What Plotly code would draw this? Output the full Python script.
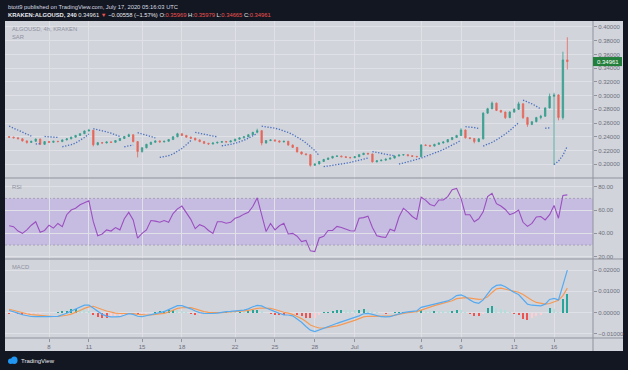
import plotly.graph_objects as go
import pandas as pd

# ---------------- data (8h candles, Jun 5 2020 -> Jul 17 2020) ----------------
dates = pd.date_range("2020-06-05 00:00", periods=127, freq="8h")

opens = [
0.2400,0.2395,0.2385,0.2372,0.2340,0.2318,0.2335,0.2368,0.2290,0.2330,0.2320,0.2335,
0.2330,0.2355,0.2370,0.2395,0.2420,0.2445,0.2485,0.2495,0.2285,0.2315,0.2310,0.2325,
0.2320,0.2345,0.2375,0.2405,0.2430,0.2330,0.2185,0.2240,0.2290,0.2320,0.2340,0.2325,
0.2335,0.2360,0.2400,0.2445,0.2420,0.2395,0.2380,0.2355,0.2330,0.2305,0.2295,0.2310,
0.2320,0.2330,0.2325,0.2340,0.2365,0.2385,0.2400,0.2430,0.2465,0.2490,0.2310,0.2345,
0.2355,0.2340,0.2325,0.2335,0.2280,0.2245,0.2180,0.2150,0.2140,0.1985,0.2005,0.2040,
0.2070,0.2090,0.2115,0.2120,0.2110,0.2100,0.2095,0.2110,0.2140,0.2160,0.2150,0.2035,
0.2050,0.2060,0.2075,0.2090,0.2120,0.2135,0.2140,0.2125,0.2115,0.2110,0.2280,0.2275,
0.2265,0.2290,0.2310,0.2325,0.2360,0.2390,0.2420,0.2500,0.2385,0.2375,0.2330,0.2370,
0.2745,0.2810,0.2890,0.2785,0.2760,0.2680,0.2760,0.2800,0.2880,0.2680,0.2580,0.2620,
0.2680,0.2700,0.2820,0.2990,0.3010,0.2680,0.3520]
highs = [
0.2410,0.2402,0.2392,0.2378,0.2348,0.2342,0.2375,0.2372,0.2338,0.2340,0.2342,0.2340,
0.2362,0.2378,0.2402,0.2428,0.2452,0.2492,0.2515,0.2500,0.2325,0.2322,0.2332,0.2330,
0.2352,0.2382,0.2412,0.2445,0.2435,0.2338,0.2248,0.2298,0.2328,0.2348,0.2345,0.2342,
0.2368,0.2408,0.2458,0.2450,0.2428,0.2402,0.2385,0.2362,0.2338,0.2312,0.2318,0.2328,
0.2338,0.2336,0.2348,0.2372,0.2392,0.2408,0.2438,0.2472,0.2518,0.2495,0.2352,0.2362,
0.2360,0.2348,0.2342,0.2340,0.2288,0.2252,0.2185,0.2162,0.2148,0.2012,0.2048,0.2078,
0.2098,0.2122,0.2128,0.2126,0.2116,0.2108,0.2118,0.2148,0.2168,0.2165,0.2155,0.2058,
0.2068,0.2082,0.2098,0.2128,0.2142,0.2148,0.2145,0.2130,0.2122,0.2295,0.2290,0.2282,
0.2298,0.2318,0.2332,0.2368,0.2398,0.2428,0.2525,0.2505,0.2392,0.2380,0.2378,0.2758,
0.2822,0.2915,0.2898,0.2792,0.2768,0.2772,0.2815,0.2910,0.2888,0.2690,0.2628,0.2690,
0.2720,0.2830,0.3030,0.3040,0.3020,0.3640,0.3850]
lows = [
0.2385,0.2378,0.2365,0.2330,0.2300,0.2310,0.2328,0.2280,0.2285,0.2312,0.2315,0.2322,
0.2325,0.2348,0.2365,0.2390,0.2412,0.2440,0.2478,0.2260,0.2275,0.2300,0.2305,0.2312,
0.2315,0.2340,0.2370,0.2398,0.2320,0.2100,0.2170,0.2232,0.2282,0.2315,0.2318,0.2320,
0.2330,0.2355,0.2395,0.2412,0.2388,0.2372,0.2345,0.2322,0.2295,0.2285,0.2290,0.2302,
0.2315,0.2318,0.2320,0.2335,0.2358,0.2378,0.2395,0.2425,0.2460,0.2275,0.2300,0.2338,
0.2332,0.2318,0.2320,0.2272,0.2238,0.2172,0.2140,0.2132,0.1965,0.1978,0.1998,0.2035,
0.2062,0.2085,0.2108,0.2102,0.2092,0.2088,0.2090,0.2105,0.2135,0.2142,0.2025,0.2028,
0.2045,0.2055,0.2070,0.2085,0.2115,0.2128,0.2118,0.2108,0.2102,0.2105,0.2265,0.2255,
0.2260,0.2282,0.2302,0.2320,0.2352,0.2382,0.2412,0.2375,0.2365,0.2305,0.2322,0.2362,
0.2735,0.2800,0.2775,0.2750,0.2660,0.2672,0.2752,0.2792,0.2660,0.2545,0.2570,0.2612,
0.2655,0.2692,0.2812,0.1990,0.2640,0.2650,0.3380]
closes = [
0.2395,0.2385,0.2372,0.2340,0.2318,0.2335,0.2368,0.2290,0.2330,0.2320,0.2335,0.2330,
0.2355,0.2370,0.2395,0.2420,0.2445,0.2485,0.2495,0.2285,0.2315,0.2310,0.2325,0.2320,
0.2345,0.2375,0.2405,0.2430,0.2330,0.2185,0.2240,0.2290,0.2320,0.2340,0.2325,0.2335,
0.2360,0.2400,0.2445,0.2420,0.2395,0.2380,0.2355,0.2330,0.2305,0.2295,0.2310,0.2320,
0.2330,0.2325,0.2340,0.2365,0.2385,0.2400,0.2430,0.2465,0.2490,0.2310,0.2345,0.2355,
0.2340,0.2325,0.2335,0.2280,0.2245,0.2180,0.2150,0.2140,0.1985,0.2005,0.2040,0.2070,
0.2090,0.2115,0.2120,0.2110,0.2100,0.2095,0.2110,0.2140,0.2160,0.2150,0.2035,0.2050,
0.2060,0.2075,0.2090,0.2120,0.2135,0.2140,0.2125,0.2115,0.2110,0.2280,0.2275,0.2265,
0.2290,0.2310,0.2325,0.2360,0.2390,0.2420,0.2500,0.2385,0.2375,0.2330,0.2370,0.2745,
0.2810,0.2890,0.2785,0.2760,0.2680,0.2760,0.2800,0.2880,0.2680,0.2580,0.2620,0.2680,
0.2700,0.2820,0.2990,0.3010,0.2680,0.3520,0.3496]

sar = [
0.2555,0.2525,0.2495,0.2465,0.2435,0.2410,
0.2295,0.2300,
0.2405,0.2400,0.2395,0.2390,
0.2255,0.2265,0.2285,0.2310,0.2345,0.2390,0.2440,
0.2518,0.2505,0.2490,0.2472,0.2452,0.2430,0.2405,
0.2255,0.2265,0.2280,
0.2460,0.2440,0.2420,0.2402,0.2385,
0.2100,0.2110,0.2125,0.2150,0.2185,0.2230,0.2285,0.2345,
0.2465,0.2452,0.2438,0.2424,0.2410,0.2398,
0.2270,0.2278,0.2290,0.2305,0.2325,0.2350,0.2380,0.2415,0.2450,
0.2555,0.2548,0.2538,0.2525,0.2508,0.2488,0.2463,0.2433,0.2398,0.2358,0.2312,0.2260,0.2200,0.2125,
0.1965,0.1973,0.1982,0.1992,0.2003,0.2015,0.2028,0.2042,0.2057,0.2073,0.2090,
0.2185,0.2172,0.2160,0.2148,0.2135,0.2122,
0.2003,0.2018,0.2035,0.2052,0.2070,0.2090,0.2112,0.2135,0.2160,0.2187,0.2215,0.2245,0.2278,0.2312,0.2350,
0.2547,0.2543,0.2535,0.2522,
0.2265,0.2290,0.2320,0.2355,0.2395,0.2440,0.2490,0.2545,0.2605,
0.2935,0.2910,0.2880,0.2845,0.2805,
0.2525,0.2530,
0.1995,0.2045,0.2130,0.2265]
sar_segment_starts = [0, 6, 8, 12, 19, 26, 29, 34, 42, 48, 57, 71, 82, 88, 103, 107, 116, 121, 123]

rsi = [
46.5,45.7,42,40,43,47,50,41,42.5,47,44.5,48.5,
45.7,56,60,61.5,64.5,66.5,68,50,38,39.5,43,42,
45,43,52.5,58,51.5,36,40,42.9,51,50.5,49.5,51,
49.5,57,61,63.4,57.5,52,44,47.5,46,42.5,40,50,
50,48.7,49.5,52.9,54.2,56.5,58,63,70.5,56,41.5,48.5,
43,46.5,48.6,39.5,40,37.5,33,34,25,24.3,36,37.5,
42.5,42.5,46,45,43.5,42.3,42,53,53.5,54.8,45,38,
37,36.5,43.5,42,54,61.5,58.5,54.5,52,71,68.5,64.8,
63.5,68.6,68.6,71.5,77.4,78.6,70,56,56,50,52.5,58.5,
71.5,74.3,65.5,63.5,60.5,56,57.5,60,49.5,46,48.6,54,
54.5,51.5,56,64,53,72.5,73]

macd = [
0.0010,0.0005,-0.0002,-0.0010,-0.0015,-0.0018,-0.0019,-0.0020,-0.0019,-0.0019,-0.0018,-0.0017,
-0.0010,-0.0003,0.0008,0.0018,0.0028,0.0035,0.0036,0.0020,0.0005,-0.0008,-0.0016,-0.0020,
-0.0020,-0.0019,-0.0012,-0.0005,-0.0008,-0.0017,-0.0019,-0.0015,-0.0010,-0.0005,0.0000,0.0005,
0.0015,0.0026,0.0033,0.0033,0.0027,0.0018,0.0008,0.0000,-0.0003,-0.0005,-0.0004,-0.0002,
0.0002,0.0005,0.0006,0.0008,0.0010,0.0012,0.0018,0.0028,0.0034,0.0032,0.0022,0.0012,
0.0005,-0.0003,-0.0010,-0.0011,-0.0015,-0.0030,-0.0045,-0.0065,-0.0082,-0.0089,-0.0082,-0.0072,
-0.0065,-0.0058,-0.0050,-0.0043,-0.0037,-0.0031,-0.0025,-0.0015,-0.0005,-0.0003,-0.0008,-0.0015,
-0.0019,-0.0020,-0.0019,-0.0012,-0.0005,0.0000,0.0004,0.0005,0.0008,0.0025,0.0030,0.0035,
0.0042,0.0048,0.0052,0.0055,0.0065,0.0080,0.0083,0.0075,0.0060,0.0048,0.0044,0.0060,
0.0088,0.0115,0.0128,0.0130,0.0122,0.0108,0.0095,0.0085,0.0062,0.0040,0.0035,0.0033,
0.0032,0.0040,0.0062,0.0067,0.0060,0.0129,0.0200]
signal = [
0.0016,0.0010,0.0004,0.0000,-0.0005,-0.0009,-0.0011,-0.0014,-0.0016,-0.0018,-0.0018,-0.0018,
-0.0016,-0.0012,-0.0007,0.0000,0.0010,0.0020,0.0027,0.0030,0.0024,0.0015,0.0008,0.0002,
-0.0002,-0.0004,-0.0003,-0.0002,-0.0004,-0.0008,-0.0011,-0.0011,-0.0010,-0.0008,-0.0006,-0.0003,
0.0003,0.0012,0.0020,0.0023,0.0025,0.0024,0.0018,0.0010,0.0005,0.0001,0.0000,0.0000,
0.0000,0.0002,0.0003,0.0005,0.0006,0.0008,0.0011,0.0016,0.0020,0.0022,0.0022,0.0020,
0.0015,0.0008,0.0002,-0.0002,-0.0008,-0.0018,-0.0028,-0.0042,-0.0058,-0.0066,-0.0072,-0.0073,
-0.0070,-0.0066,-0.0062,-0.0056,-0.0050,-0.0043,-0.0036,-0.0028,-0.0020,-0.0017,-0.0016,-0.0016,
-0.0016,-0.0016,-0.0016,-0.0013,-0.0008,-0.0004,0.0000,0.0002,0.0005,0.0012,0.0020,0.0027,
0.0033,0.0039,0.0044,0.0048,0.0056,0.0066,0.0070,0.0071,0.0068,0.0065,0.0062,0.0064,
0.0075,0.0095,0.0112,0.0115,0.0110,0.0106,0.0102,0.0096,0.0085,0.0070,0.0058,0.0048,
0.0043,0.0040,0.0043,0.0050,0.0058,0.0080,0.0115]
hist = [
-0.0006,-0.0005,-0.0006,-0.0010,-0.0010,-0.0009,-0.0008,-0.0006,-0.0003,-0.0001,0.0000,0.0001,
0.0006,0.0009,0.0015,0.0018,0.0018,0.0015,0.0009,-0.0010,-0.0019,-0.0023,-0.0024,-0.0022,
-0.0018,-0.0015,-0.0009,-0.0003,-0.0004,-0.0009,-0.0008,-0.0004,0.0000,0.0003,0.0006,0.0008,
0.0012,0.0014,0.0013,0.0010,0.0002,-0.0006,-0.0010,-0.0010,-0.0008,-0.0006,-0.0004,-0.0002,
0.0002,0.0003,0.0003,0.0003,0.0004,0.0004,0.0007,0.0012,0.0014,0.0010,0.0000,-0.0008,
-0.0010,-0.0011,-0.0012,-0.0009,-0.0007,-0.0012,-0.0017,-0.0023,-0.0027,-0.0023,-0.0010,0.0001,
0.0005,0.0008,0.0012,0.0013,0.0013,0.0012,0.0011,0.0013,0.0015,0.0014,0.0008,0.0001,
-0.0003,-0.0004,-0.0003,0.0001,0.0003,0.0004,0.0004,0.0003,0.0003,0.0013,0.0010,0.0008,
0.0009,0.0009,0.0008,0.0007,0.0009,0.0014,0.0013,0.0004,-0.0008,-0.0017,-0.0018,-0.0004,
0.0020,0.0030,0.0022,0.0015,0.0012,0.0002,-0.0007,-0.0011,-0.0030,-0.0034,-0.0023,-0.0015,
-0.0011,0.0000,0.0022,0.0017,0.0002,0.0065,0.0088]

price_ticks = [0.20, 0.22, 0.24, 0.26, 0.28, 0.30, 0.32, 0.34, 0.36, 0.38, 0.40]
rsi_ticks = [20, 40, 60, 80]
macd_ticks = [-0.01, 0.0, 0.01, 0.02]
date_ticks = ["2020-06-08", "2020-06-11", "2020-06-15", "2020-06-18", "2020-06-22", "2020-06-25",
              "2020-06-28", "2020-07-01", "2020-07-06", "2020-07-09", "2020-07-13", "2020-07-16"]
date_labels = ["8", "11", "15", "18", "22", "25", "28", "Jul", "6", "9", "13", "16"]
last_price = 0.34961

# ---------------- styling ----------------
W, H = 628, 370
def px(x): return x / W
def py(y): return 1 - y / H

FONT = "Liberation Sans, Arial, sans-serif"
PANEL = "#d2d4dc"
GRID = "#dfe1e7"
SEP = "#90939d"
TXT = "#6c707b"
UP, DOWN = "#3a9e8e", "#e4685c"

fig = go.Figure()

fig.add_trace(go.Candlestick(
    x=dates, open=opens, high=highs, low=lows, close=closes,
    increasing=dict(line=dict(color=UP, width=0.8), fillcolor=UP),
    decreasing=dict(line=dict(color=DOWN, width=0.8), fillcolor=DOWN),
    whiskerwidth=0, xaxis="x", yaxis="y", hoverinfo="skip"))

for i, s in enumerate(sar_segment_starts):
    e = sar_segment_starts[i + 1] if i + 1 < len(sar_segment_starts) else len(sar)
    fig.add_trace(go.Scatter(x=dates[s:e], y=sar[s:e], mode="lines",
                             line=dict(color="#4a70bd", width=1.3, dash="1.3px,1.6px"),
                             xaxis="x", yaxis="y", hoverinfo="skip"))

fig.add_trace(go.Scatter(x=dates, y=rsi, mode="lines", line=dict(color="#9b4fc0", width=1.1),
                         xaxis="x2", yaxis="y2", hoverinfo="skip"))

hist_colors = []
prev = 0.0
for h in hist:
    if h >= 0:
        hist_colors.append("#26a69a" if h > prev else "#b2dfdb")
    else:
        hist_colors.append("#ef5350" if h < prev else "#ffcdd2")
    prev = h
fig.add_trace(go.Bar(x=dates, y=hist, marker=dict(color=hist_colors, line=dict(width=0)),
                     width=8 * 3600 * 1000 * 0.45, xaxis="x3", yaxis="y3", hoverinfo="skip"))
fig.add_trace(go.Scatter(x=dates, y=signal, mode="lines", line=dict(color="#f59a55", width=1.2),
                         xaxis="x3", yaxis="y3", hoverinfo="skip"))
fig.add_trace(go.Scatter(x=dates, y=macd, mode="lines", line=dict(color="#55aaf0", width=1.2),
                         xaxis="x3", yaxis="y3", hoverinfo="skip"))

xr = ["2020-06-04 16:32", "2020-07-18 22:20"]
xdom = [px(5), px(593)]
common_x = dict(type="date", range=xr, domain=xdom, tickvals=date_ticks, ticktext=date_labels,
                showgrid=True, gridcolor=GRID, gridwidth=1, zeroline=False, showline=False,
                fixedrange=True)
common_y = dict(side="right", showgrid=True, gridcolor=GRID, gridwidth=1, zeroline=False,
                showline=False, ticks="outside", ticklen=3, tickcolor=SEP,
                tickfont=dict(size=6, color=TXT, family=FONT), fixedrange=True)

fig.update_layout(
    width=W, height=H, margin=dict(l=0, r=0, t=0, b=0),
    paper_bgcolor="#131722", plot_bgcolor="rgba(0,0,0,0)",
    showlegend=False, hovermode=False, bargap=0, boxgap=0.55,
    font=dict(family=FONT),
    xaxis=dict(**common_x, anchor="y", showticklabels=False, ticks="",
               rangeslider=dict(visible=False)),
    xaxis2=dict(**common_x, anchor="y2", showticklabels=False, ticks="", matches="x"),
    xaxis3=dict(**common_x, anchor="y3", showticklabels=True, ticks="outside", ticklen=3,
                tickcolor=SEP, tickfont=dict(size=6, color=TXT, family=FONT), matches="x"),
    yaxis=dict(**common_y, anchor="x", domain=[py(178), py(21)], range=[0.18, 0.4087],
               tickvals=price_ticks, ticktext=[f"{v:.5f}" for v in price_ticks]),
    yaxis2=dict(**common_y, anchor="x2", domain=[py(259), py(178)], range=[18, 87.5],
                tickvals=rsi_ticks, ticktext=[f"{v:.2f}" for v in rsi_ticks]),
    yaxis3=dict(**common_y, anchor="x3", domain=[py(338), py(259)], range=[-0.0119, 0.0252],
                tickvals=macd_ticks,
                ticktext=[(f"{v:.5f}" if v >= 0 else "\u2212" + f"{-v:.5f}") for v in macd_ticks]),
)

shapes = [
    dict(type="rect", xref="paper", yref="paper", x0=px(5), x1=px(623), y0=py(351), y1=py(21),
         fillcolor=PANEL, line=dict(width=0), layer="below"),
    dict(type="rect", xref="paper", yref="y2", x0=px(5), x1=px(593), y0=30, y1=70,
         fillcolor="rgba(168,118,238,0.26)", line=dict(width=0), layer="below"),
    dict(type="line", xref="paper", yref="y2", x0=px(5), x1=px(593), y0=70, y1=70,
         line=dict(color="#a6a0b8", width=1, dash="2px,2px"), layer="below"),
    dict(type="line", xref="paper", yref="y2", x0=px(5), x1=px(593), y0=30, y1=30,
         line=dict(color="#a6a0b8", width=1, dash="2px,2px"), layer="below"),
]
for yy in (178, 259, 338):
    shapes.append(dict(type="line", xref="paper", yref="paper", x0=px(5), x1=px(623),
                       y0=py(yy), y1=py(yy), line=dict(color=SEP, width=1), layer="above"))
shapes.append(dict(type="line", xref="paper", yref="paper", x0=px(593), x1=px(593),
                   y0=py(351), y1=py(21), line=dict(color=SEP, width=1), layer="above"))
# last price label box
shapes.append(dict(type="rect", xref="paper", yref="y", x0=px(593), x1=px(622),
                   y0=last_price - 0.0066, y1=last_price + 0.0066,
                   fillcolor="#217e3b", line=dict(width=0), layer="above"))
# TradingView logo (small cloud)
shapes.append(dict(type="circle", xref="paper", yref="paper", x0=px(8), x1=px(13.5),
                   y0=py(364), y1=py(358.5), fillcolor="#2196f3", line=dict(width=0)))
shapes.append(dict(type="circle", xref="paper", yref="paper", x0=px(11), x1=px(17.5),
                   y0=py(364), y1=py(356.5), fillcolor="#2196f3", line=dict(width=0)))
fig.update_layout(shapes=shapes)

ann = [
    dict(x=px(6), y=py(6.5), text="btott9 published on TradingView.com, July 17, 2020 05:16:03 UTC",
         font=dict(size=5.8, color="#d8dae0")),
    dict(x=px(6), y=py(15), text=("<b>KRAKEN:ALGOUSD, 240</b> 0.34961 "
                                  "<span style='color:#ef5350'>\u25bc</span> \u22120.00558 (\u22121.57%) "
                                  "O:<span style='color:#ef5350'>0.35969</span> "
                                  "H:<span style='color:#ef5350'>0.35979</span> "
                                  "L:<span style='color:#ef5350'>0.34665</span> "
                                  "C:<span style='color:#ef5350'>0.34961</span>"),
         font=dict(size=5.8, color="#e8e9ee")),
    dict(x=px(10), y=py(29), text="ALGOUSD, 4h, KRAKEN", font=dict(size=5.8, color="#8e929d")),
    dict(x=px(10), y=py(37), text="SAR", font=dict(size=5.8, color="#8e929d")),
    dict(x=px(10), y=py(187), text="RSI", font=dict(size=5.8, color="#8e929d")),
    dict(x=px(10), y=py(267), text="MACD", font=dict(size=5.8, color="#8e929d")),
    dict(x=px(19), y=py(361), text="TradingView", font=dict(size=6, color="#e8e9ee")),
]
for a in ann:
    a.update(xref="paper", yref="paper", xanchor="left", yanchor="middle", showarrow=False)
    a["font"]["family"] = FONT
fig.update_layout(annotations=ann)
fig.add_annotation(x=px(607.5), y=last_price, xref="paper", yref="y", text="0.34961",
                   showarrow=False, xanchor="center", yanchor="middle",
                   font=dict(size=6, color="white", family=FONT))

fig.write_html("out.html", config={"displayModeBar": False, "staticPlot": True},
               post_script="document.body.style.margin='0px';document.body.style.overflow='hidden';")
